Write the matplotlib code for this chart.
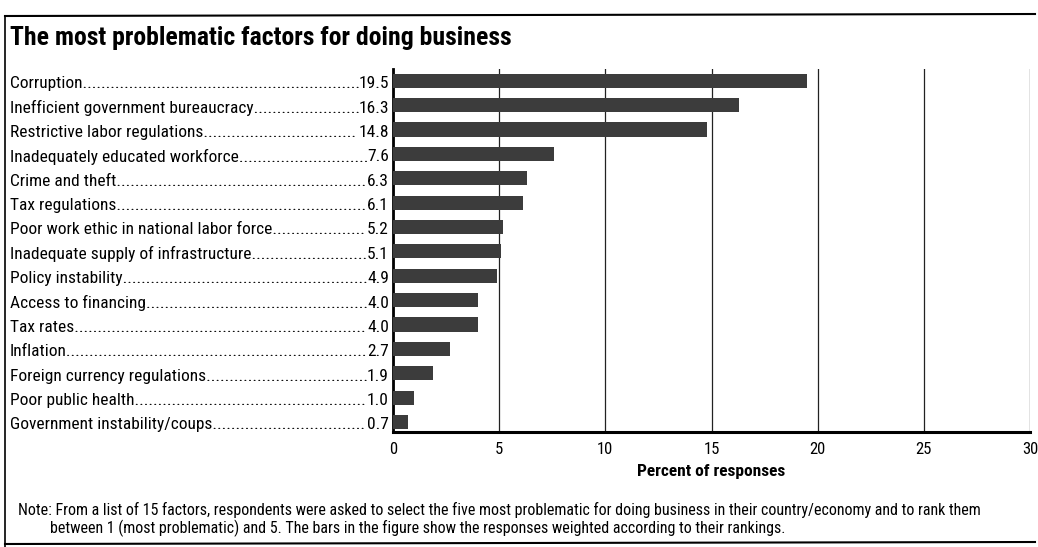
import matplotlib
matplotlib.use('Agg')
import matplotlib.pyplot as plt
from matplotlib.transforms import blended_transform_factory

factors = ['Corruption', 'Inefficient government bureaucracy', 'Restrictive labor regulations',
           'Inadequately educated workforce', 'Crime and theft', 'Tax regulations',
           'Poor work ethic in national labor force', 'Inadequate supply of infrastructure',
           'Policy instability', 'Access to financing', 'Tax rates', 'Inflation',
           'Foreign currency regulations', 'Poor public health', 'Government instability/coups']
values = [19.5, 16.3, 14.8, 7.6, 6.3, 6.1, 5.2, 5.1, 4.9, 4.0, 4.0, 2.7, 1.9, 1.0, 0.7]
xticks = [0, 5, 10, 15, 20, 25, 30]

plt.rcParams['font.family'] = ['Roboto Condensed', 'Archivo Narrow', 'DejaVu Sans']

fig = plt.figure(figsize=(10.38, 5.47), dpi=100)
ax = fig.add_axes([393 / 1038, 1 - 432 / 547, 637 / 1038, 363 / 547])

ypos = list(range(len(factors)))
ax.barh(ypos, values, height=0.58, color='#3c3c3c', zorder=3)
ax.set_xlim(0, 30)
ax.set_ylim(14.41, -0.48)
ax.set_xticks(xticks)
ax.set_xticklabels([str(t) for t in xticks], fontsize=12)
ax.set_yticks([])
ax.tick_params(axis='x', length=0, pad=7)
ax.grid(axis='x', color='#222222', linewidth=0.9, zorder=1)
for s in ['top', 'right']:
    ax.spines[s].set_visible(False)
ax.spines['left'].set_linewidth(2)
ax.spines['bottom'].set_linewidth(2.2)
ax.set_xlabel('Percent of responses', fontsize=12.5, fontweight='bold', labelpad=5)

# labels with dot leaders running up to the value
tr = blended_transform_factory(fig.transFigure, ax.transData)
fig.canvas.draw()
renderer = fig.canvas.get_renderer()
x_left = 10 / 1038
x_val = 389 / 1038
for y, name, v in zip(ypos, factors, values):
    vt = ax.text(x_val, y + 0.12, f'{v:.1f}', transform=tr, ha='right', va='center', fontsize=12.5)
    limit = vt.get_window_extent(renderer).x0 + 1.5
    lt = ax.text(x_left, y + 0.12, name, transform=tr, ha='left', va='center', fontsize=12.5)
    dots = ''
    while lt.get_window_extent(renderer).x1 <= limit:
        dots += '.'
        lt.set_text(name + dots)
    lt.set_text(name + dots[:-1])

fig.text(10 / 1038, 1 - 38 / 547, 'The most problematic factors for doing business',
         fontsize=18.5, fontweight='bold', va='center', ha='left')

fig.text(18 / 1038, 1 - 510 / 547,
         'Note: From a list of 15 factors, respondents were asked to select the five most problematic '
         'for doing business in their country/economy and to rank them',
         fontsize=11.5, va='center', ha='left')
fig.text(50 / 1038, 1 - 528 / 547,
         'between 1 (most problematic) and 5. The bars in the figure show the responses weighted '
         'according to their rankings.',
         fontsize=11.5, va='center', ha='left')

# outer frame
fig.add_artist(plt.Line2D([5 / 1038, 5 / 1038], [0, 1 - 16 / 547], transform=fig.transFigure,
                          color='black', linewidth=1.2))
fig.add_artist(plt.Line2D([5 / 1038, 1035 / 1038], [1 - 16 / 547, 1 - 14 / 547],
                          transform=fig.transFigure, color='black', linewidth=1.5))
fig.add_artist(plt.Line2D([5 / 1038, 1035 / 1038], [1 - 544 / 547, 1 - 542 / 547],
                          transform=fig.transFigure, color='black', linewidth=1.5))

fig.savefig('out.png', dpi=100)
